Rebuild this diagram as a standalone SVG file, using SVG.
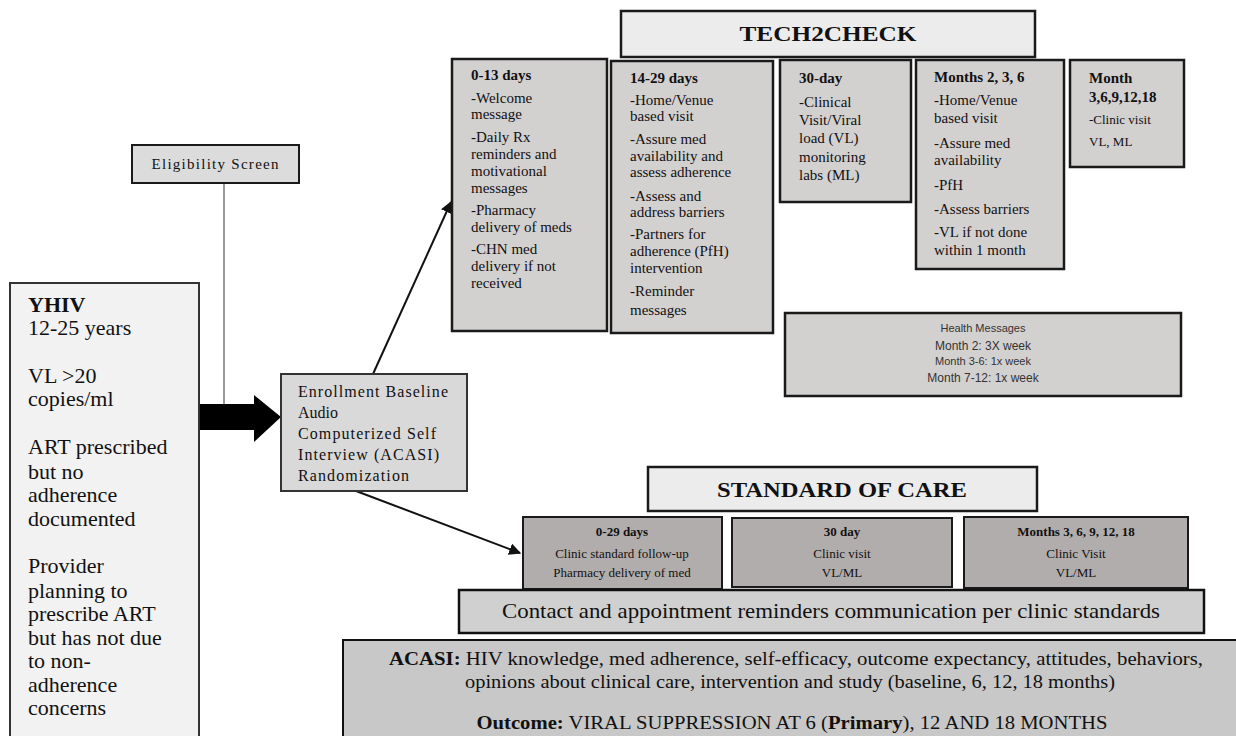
<svg xmlns="http://www.w3.org/2000/svg" width="1236" height="736" viewBox="0 0 1236 736">
<style>
.t{font-family:"Liberation Serif","Times New Roman",serif;fill:#111}
.b{font-weight:bold}
.box{stroke:#1a1a1a;stroke-width:2.5}
.hdr{fill:#ececec}
.tc{fill:#d3d0d0}
.soc{fill:#b1adac;stroke:#1a1a1a;stroke-width:2}
.s15{font-size:15px}
.s13{font-size:13px}
.s22{font-size:22px}
.sans{font-family:"Liberation Sans",Arial,sans-serif;fill:#333}
.ln{stroke:#111;stroke-width:2;fill:none}
</style>
<defs>
<marker id="ah" viewBox="0 0 10 10" refX="9" refY="5" markerWidth="6" markerHeight="6" orient="auto" markerUnits="strokeWidth">
<path d="M0,0 L10,5 L0,10 z" fill="#111"/>
</marker>
</defs>
<rect width="1236" height="736" fill="#ffffff"/>

<g id="connectors">
<line x1="224" y1="183" x2="224" y2="405" stroke="#555" stroke-width="1.2"/>
<polygon points="199,404 254,404 254,395 281,417 254,442 254,430 199,430" fill="#000"/>
<line class="ln" x1="373" y1="374" x2="451" y2="202" marker-end="url(#ah)"/>
<line class="ln" x1="356" y1="491" x2="520" y2="553" marker-end="url(#ah)"/>
</g>

<g id="tech2check">
<rect class="box hdr" x="621" y="11" width="414" height="46"/>
<text class="t b" x="828" y="41" font-size="22" text-anchor="middle" textLength="177" lengthAdjust="spacingAndGlyphs">TECH2CHECK</text>
</g>

<g id="days0-13">
<rect class="box tc" x="452" y="59" width="155" height="272"/>
<g class="t s15">
<text class="b" x="471" y="80">0-13 days</text>
<text x="471" y="103">-Welcome</text>
<text x="471" y="119">message</text>
<text x="471" y="142">-Daily Rx</text>
<text x="471" y="159">reminders and</text>
<text x="471" y="176">motivational</text>
<text x="471" y="193">messages</text>
<text x="471" y="215">-Pharmacy</text>
<text x="471" y="232">delivery of meds</text>
<text x="471" y="254">-CHN med</text>
<text x="471" y="271">delivery if not</text>
<text x="471" y="288">received</text>
</g>
</g>

<g id="days14-29">
<rect class="box tc" x="611" y="61" width="162" height="272"/>
<g class="t s15">
<text class="b" x="630" y="83">14-29 days</text>
<text x="630" y="105">-Home/Venue</text>
<text x="630" y="121">based visit</text>
<text x="630" y="144">-Assure med</text>
<text x="630" y="161">availability and</text>
<text x="630" y="177">assess adherence</text>
<text x="630" y="201">-Assess and</text>
<text x="630" y="217">address barriers</text>
<text x="630" y="239">-Partners for</text>
<text x="630" y="256">adherence (PfH)</text>
<text x="630" y="273">intervention</text>
<text x="630" y="296">-Reminder</text>
<text x="630" y="315">messages</text>
</g>
</g>

<g id="day30">
<rect class="box tc" x="780" y="60" width="131" height="142"/>
<g class="t s15">
<text class="b" x="799" y="83">30-day</text>
<text x="799" y="107">-Clinical</text>
<text x="799" y="125">Visit/Viral</text>
<text x="799" y="143">load (VL)</text>
<text x="799" y="162">monitoring</text>
<text x="799" y="180">labs (ML)</text>
</g>
</g>

<g id="months236">
<rect class="box tc" x="916" y="60" width="148" height="209"/>
<g class="t s15">
<text class="b" x="934" y="82">Months 2, 3, 6</text>
<text x="934" y="105">-Home/Venue</text>
<text x="934" y="123">based visit</text>
<text x="934" y="148">-Assure med</text>
<text x="934" y="165">availability</text>
<text x="934" y="190">-PfH</text>
<text x="934" y="214">-Assess barriers</text>
<text x="934" y="237">-VL if not done</text>
<text x="934" y="255">within 1 month</text>
</g>
</g>

<g id="month-clinic">
<rect class="box tc" x="1070" y="60" width="114" height="107"/>
<g class="t">
<text class="b s15" x="1089" y="83">Month</text>
<text class="b s15" x="1089" y="102">3,6,9,12,18</text>
<text x="1089" y="124" font-size="13">-Clinic visit</text>
<text x="1089" y="146" font-size="13">VL, ML</text>
</g>
</g>

<g id="health-messages">
<rect class="box tc" x="785" y="313" width="396" height="83"/>
<g class="sans" text-anchor="middle">
<text x="983" y="332" font-size="11">Health Messages</text>
<text x="983" y="350" font-size="12">Month 2: 3X week</text>
<text x="983" y="365" font-size="11">Month 3-6: 1x week</text>
<text x="983" y="382" font-size="12">Month 7-12: 1x week</text>
</g>
</g>

<g id="eligibility">
<rect x="132" y="145" width="167" height="38" fill="#dcdcdc" stroke="#1a1a1a" stroke-width="2"/>
<text class="t" x="215" y="169" font-size="15" text-anchor="middle" textLength="127" lengthAdjust="spacing">Eligibility Screen</text>
</g>

<g id="yhiv">
<rect x="10" y="283" width="189" height="460" fill="#f2f2f2" stroke="#333" stroke-width="2"/>
<g class="t s22">
<text class="b" x="28" y="312">YHIV</text>
<text x="28" y="335">12-25 years</text>
<text x="28" y="383">VL &gt;20</text>
<text x="28" y="406">copies/ml</text>
<text x="28" y="454">ART prescribed</text>
<text x="28" y="479">but no</text>
<text x="28" y="502">adherence</text>
<text x="28" y="526">documented</text>
<text x="28" y="573">Provider</text>
<text x="28" y="598">planning to</text>
<text x="28" y="621">prescribe ART</text>
<text x="28" y="645">but has not due</text>
<text x="28" y="668">to non-</text>
<text x="28" y="692">adherence</text>
<text x="28" y="715">concerns</text>
</g>
</g>

<g id="enrollment">
<rect x="281" y="374" width="186" height="117" fill="#d9d9d9" stroke="#333" stroke-width="2"/>
<g class="t" font-size="16">
<text x="298" y="397" textLength="150" lengthAdjust="spacing">Enrollment Baseline</text>
<text x="298" y="418">Audio</text>
<text x="298" y="439" textLength="138" lengthAdjust="spacing">Computerized Self</text>
<text x="298" y="460" textLength="141" lengthAdjust="spacing">Interview (ACASI)</text>
<text x="298" y="481" textLength="111" lengthAdjust="spacing">Randomization</text>
</g>
</g>

<g id="standard-of-care">
<rect class="box hdr" x="648" y="467" width="389" height="44" stroke-width="2"/>
<text class="t b" x="842" y="497" font-size="22" text-anchor="middle" textLength="250" lengthAdjust="spacingAndGlyphs">STANDARD OF CARE</text>
</g>

<g id="soc-0-29">
<rect class="soc" x="523" y="517" width="199" height="72"/>
<g class="t s13" text-anchor="middle">
<text class="b" x="622" y="536">0-29 days</text>
<text x="622" y="558">Clinic standard follow-up</text>
<text x="622" y="577">Pharmacy delivery of med</text>
</g>
</g>

<g id="soc-30">
<rect class="soc" x="732" y="518" width="220" height="69"/>
<g class="t s13" text-anchor="middle">
<text class="b" x="842" y="536">30 day</text>
<text x="842" y="558">Clinic visit</text>
<text x="842" y="577">VL/ML</text>
</g>
</g>

<g id="soc-months">
<rect class="soc" x="964" y="517" width="224" height="71"/>
<g class="t s13" text-anchor="middle">
<text class="b" x="1076" y="536">Months 3, 6, 9, 12, 18</text>
<text x="1076" y="558">Clinic Visit</text>
<text x="1076" y="577">VL/ML</text>
</g>
</g>

<g id="contact">
<rect x="459" y="590" width="745" height="43" fill="#d0d0d0" stroke="#111" stroke-width="2.5"/>
<text class="t" x="502" y="618" font-size="21" textLength="658" lengthAdjust="spacingAndGlyphs">Contact and appointment reminders communication per clinic standards</text>
</g>

<g id="acasi">
<rect x="343" y="640" width="900" height="100" fill="#c8c8c8" stroke="#111" stroke-width="2"/>
<g class="t" font-size="18" text-anchor="middle">
<text x="796" y="665" textLength="814" lengthAdjust="spacingAndGlyphs"><tspan class="b">ACASI:</tspan> HIV knowledge, med adherence, self-efficacy, outcome expectancy, attitudes, behaviors,</text>
<text x="790" y="688" textLength="650" lengthAdjust="spacingAndGlyphs">opinions about clinical care, intervention and study (baseline, 6, 12, 18 months)</text>
<text x="792" y="729" textLength="631" lengthAdjust="spacingAndGlyphs"><tspan class="b">Outcome:</tspan> VIRAL SUPPRESSION AT 6 (<tspan class="b">Primary</tspan>), 12 AND 18 MONTHS</text>
</g>
</g>
</svg>
